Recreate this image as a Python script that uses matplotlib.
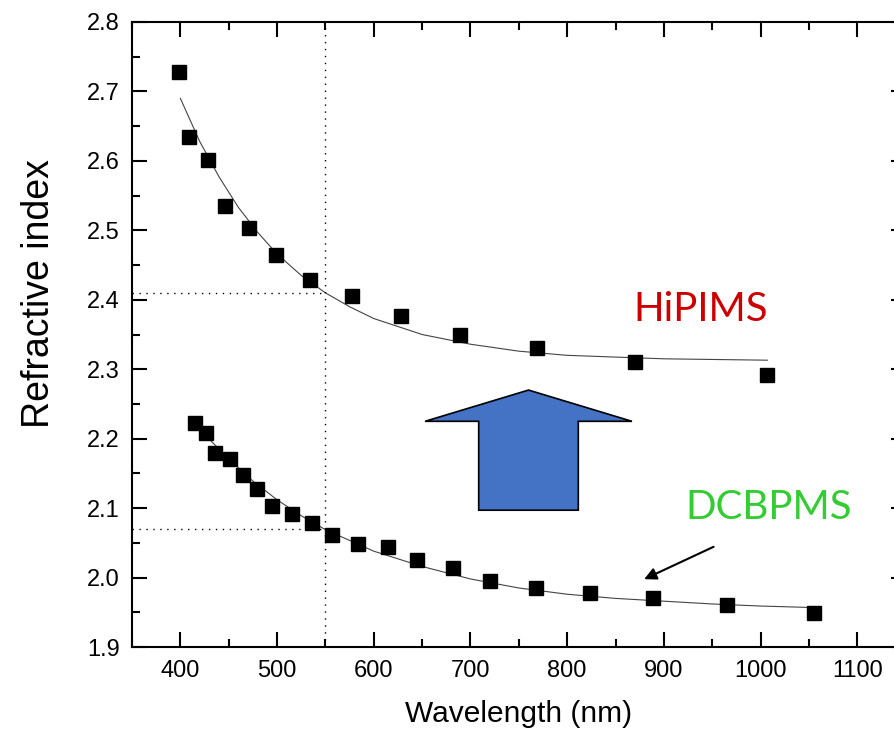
import numpy as np
import matplotlib.pyplot as plt
from matplotlib.patches import FancyArrow
from matplotlib.ticker import MultipleLocator

plt.rcParams['font.family'] = ['Liberation Sans', 'DejaVu Sans']

# measured points
hip_wl = [399, 409, 429, 446, 471, 499, 534, 577, 628, 689, 769, 870, 1007]
hip_n = [2.728, 2.635, 2.601, 2.535, 2.504, 2.464, 2.428, 2.405, 2.376, 2.350, 2.331, 2.311, 2.292]

dc_wl = [415, 427, 436, 451, 465, 479, 495, 515, 536, 557, 584, 615, 645, 682, 720,
         768, 824, 889, 965, 1055]
dc_n = [2.222, 2.208, 2.179, 2.171, 2.147, 2.128, 2.103, 2.092, 2.078, 2.061, 2.049,
        2.044, 2.025, 2.014, 1.995, 1.985, 1.978, 1.970, 1.961, 1.949]

# fitted curves
hip_fit_wl = [400, 420, 440, 460, 480, 500, 525, 550, 575, 600, 650, 700, 750, 800, 900, 1007]
hip_fit_n = [2.690, 2.628, 2.577, 2.533, 2.497, 2.466, 2.435, 2.410, 2.390, 2.373, 2.350,
             2.336, 2.326, 2.320, 2.315, 2.313]

dc_fit_wl = [415, 430, 450, 475, 500, 525, 550, 600, 650, 700, 750, 800, 850, 900, 950, 1000, 1050]
dc_fit_n = [2.224, 2.199, 2.171, 2.139, 2.112, 2.089, 2.069, 2.038, 2.016, 1.998, 1.985,
            1.976, 1.970, 1.966, 1.962, 1.959, 1.957]

fig = plt.figure(figsize=(8.95, 7.33), dpi=100)
ax = fig.add_axes([0.1475, 0.1173, 0.8644, 0.8527])

ax.plot(hip_fit_wl, hip_fit_n, color='#444444', lw=0.8)
ax.plot(dc_fit_wl, dc_fit_n, color='#444444', lw=0.8)
ax.plot(hip_wl, hip_n, 's', color='black', ms=9.5)
ax.plot(dc_wl, dc_n, 's', color='black', ms=9.5)

# guide lines at 550 nm
ax.axvline(550, color='black', lw=1, ls=(0, (1, 4)))
ax.plot([350, 550], [2.41, 2.41], color='black', lw=1, ls=(0, (1, 4)))
ax.plot([350, 550], [2.07, 2.07], color='black', lw=1, ls=(0, (1, 4)))

# big blue arrow
ax.add_patch(FancyArrow(760, 2.097, 0, 0.173, width=103, head_width=214,
                        head_length=0.045, length_includes_head=True,
                        fc='#4472C4', ec='black', lw=1.2, zorder=3))

ax.annotate('', xy=(877, 1.996), xytext=(954, 2.046),
            arrowprops=dict(arrowstyle='-|>', color='black', lw=1.5, mutation_scale=18))

ax.text(938, 2.386, 'HiPIMS', color='#CC0000', fontsize=29, family=['Lato', 'DejaVu Sans'],
        ha='center', va='center')
ax.text(1008, 2.101, 'DCBPMS', color='#33CC33', fontsize=29, family=['Lato', 'DejaVu Sans'],
        ha='center', va='center')

ax.set_xlim(350, 1150)
ax.set_ylim(1.9, 2.8)
ax.xaxis.set_major_locator(MultipleLocator(100))
ax.xaxis.set_minor_locator(MultipleLocator(50))
ax.yaxis.set_major_locator(MultipleLocator(0.1))
ax.yaxis.set_minor_locator(MultipleLocator(0.05))
ax.set_xticks(np.arange(400, 1101, 100))
ax.set_xticklabels([str(v) for v in range(400, 1101, 100)])
ax.tick_params(which='both', direction='in', top=True, right=True, width=1.5, labelsize=17, pad=9)
ax.tick_params(which='major', length=11)
ax.tick_params(which='minor', length=6)
for s in ax.spines.values():
    s.set_linewidth(1.5)

ax.set_xlabel('Wavelength (nm)', fontsize=21.5)
ax.set_ylabel('Refractive index', fontsize=27)
ax.yaxis.set_label_coords(-0.097, 0.566)
ax.xaxis.set_label_coords(0.5, -0.085)

fig.savefig('out.png', dpi=100)
